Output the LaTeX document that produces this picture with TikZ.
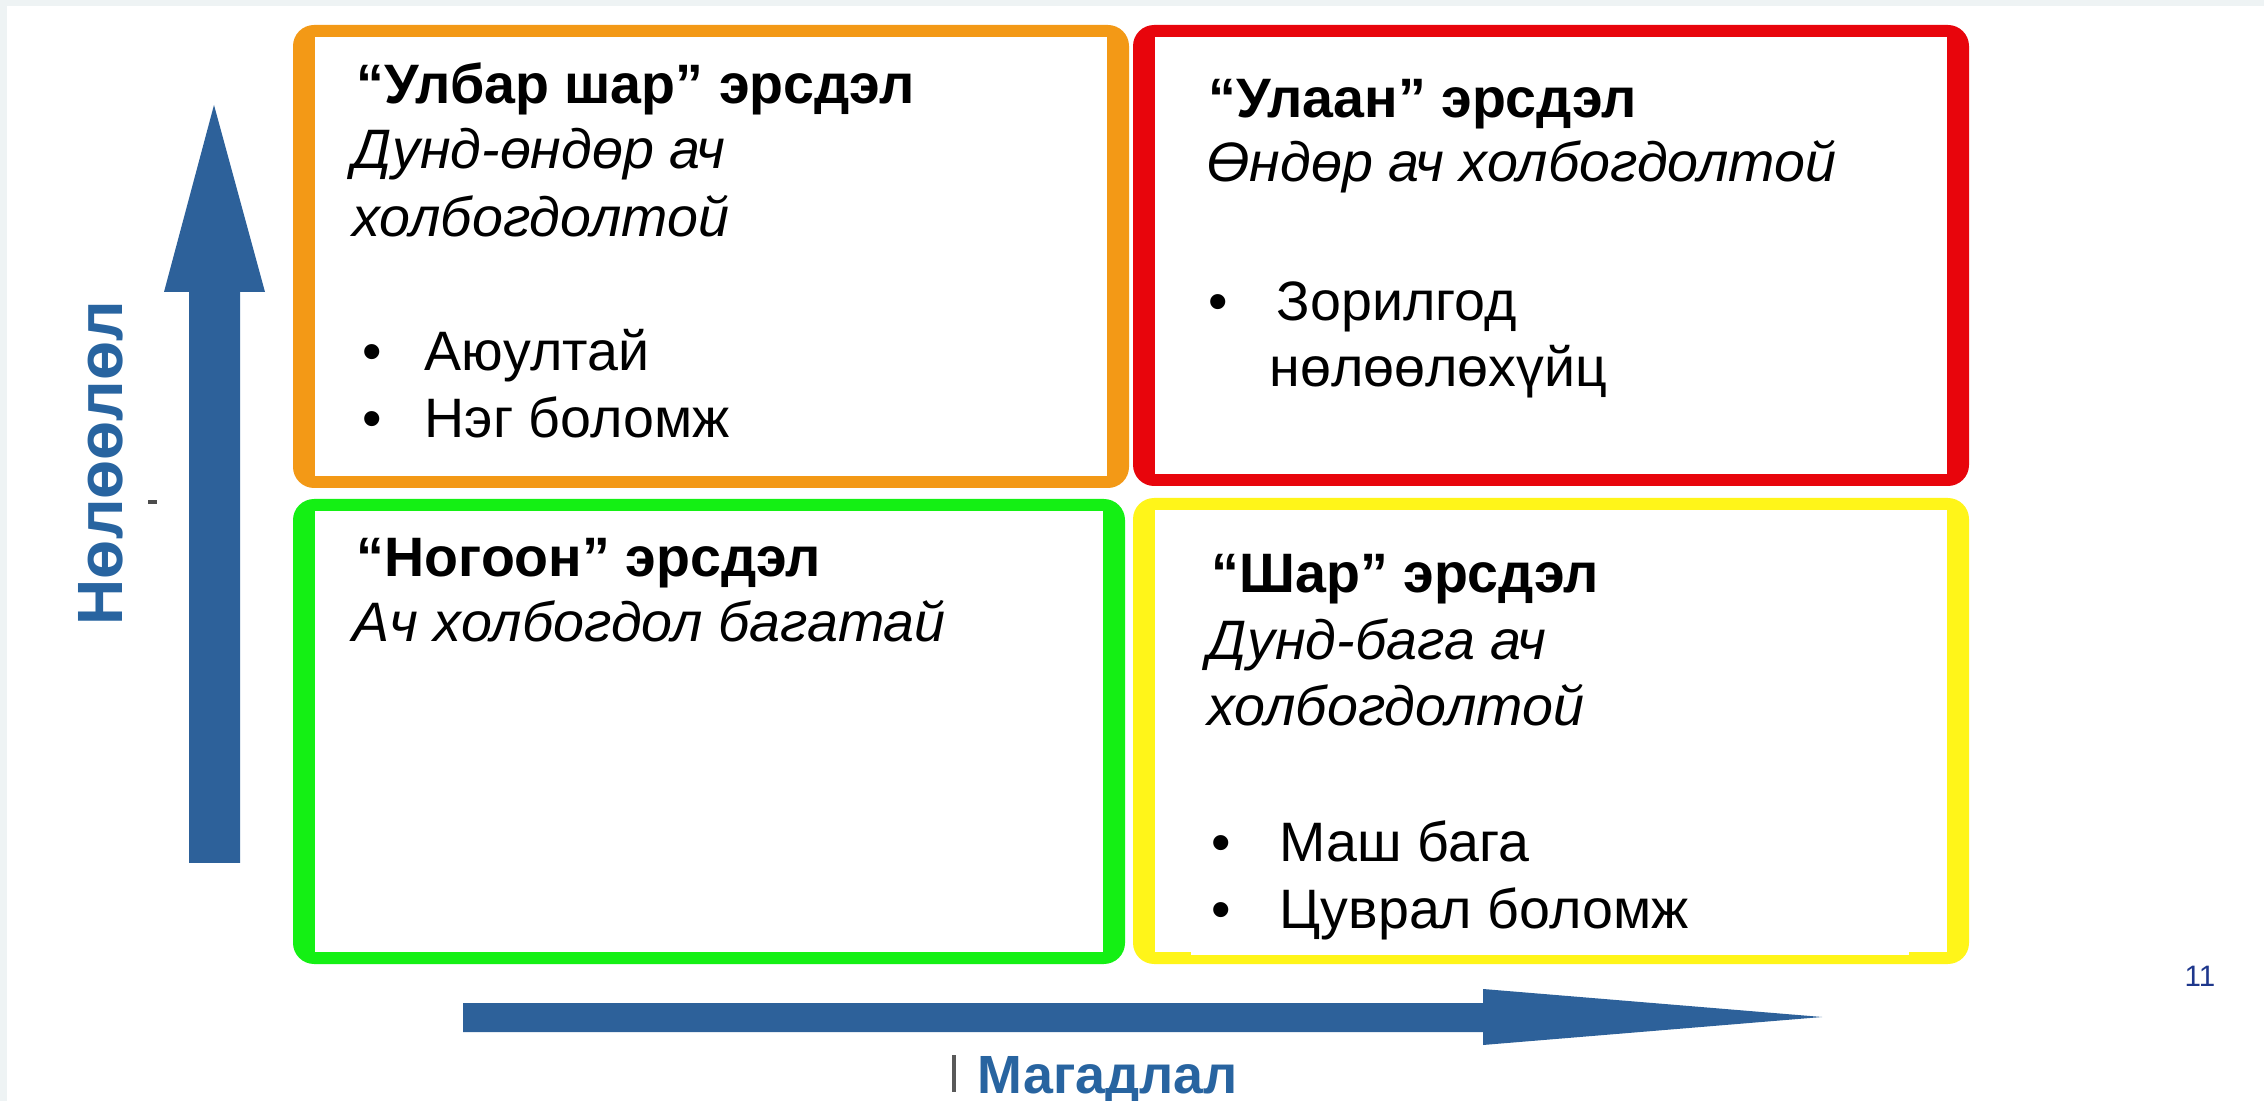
\documentclass[tikz,border=0pt]{standalone}
\usepackage{fontspec}
\setmainfont{Liberation Sans}
\usepackage{xcolor}

\definecolor{slidegray}{RGB}{238,243,244}
\definecolor{riskorange}{RGB}{243,153,22}
\definecolor{riskred}{RGB}{232,5,12}
\definecolor{riskgreen}{RGB}{20,240,20}
\definecolor{riskyellow}{RGB}{255,245,25}
\definecolor{axisblue}{RGB}{45,97,154}
\definecolor{labelblue}{RGB}{40,100,160}
\definecolor{pagenavy}{RGB}{30,55,140}

\newcommand{\bodysize}{\fontsize{15.8}{19}\selectfont}
\newcommand{\bul}[1][0.68cm]{\makebox[#1][l]{•}}

\begin{document}
\begin{tikzpicture}[x=0.01cm, y=-0.01cm,
    txt/.style={anchor=base west, inner sep=0pt, font=\bodysize},
    ttl/.style={txt, font=\bodysize\bfseries},
    sub/.style={txt, font=\bodysize\itshape},
    axislabel/.style={anchor=base west, inner sep=0pt, text=labelblue}]
    \useasboundingbox (0,0) rectangle (2264,1101);
    % Background
    \fill[slidegray] (0,0) rectangle (2264,1101);
    \fill[white] (7,6) rectangle (2264,1101);

    % Quadrants
    \foreach \col/\xa/\ya/\xb/\yb in {riskorange/293/25/1129/488, riskred/1133/25/1969/486,
        riskgreen/293/499/1125/964, riskyellow/1133/498/1969/964} {
        \fill[\col, rounded corners=6] (\xa,\ya) rectangle (\xb,\yb);
        \fill[white] (\xa+22,\ya+12) rectangle (\xb-22,\yb-12);
    }
    \fill[white] (1191,940) rectangle (1909,955);

    % Axes
    \fill[axisblue] (189,863) -- (189,292) -- (164,292) -- (214,105) -- (265,292)
        -- (240,292) -- (240,863) -- cycle;
    \fill[axisblue] (463,1003) -- (1483,1003) -- (1483,989) -- (1822,1017)
        -- (1483,1045) -- (1483,1032) -- (463,1032) -- cycle;
    \node[axislabel, rotate=90, font=\fontsize{18.2}{22}\selectfont\bfseries] (impact) at (122,626) {Нөлөөлөл};
    \node[axislabel, font=\fontsize{15.3}{19}\selectfont\bfseries] (prob) at (977,1093) {Магадлал};
    \fill[gray!70!black] (952,1055) rectangle (956,1092);
    \fill[gray!60!black] (148,500) rectangle (157,504);

    % Orange
    \node[ttl] (otitle) at (356,104) {“Улбар шар” эрсдэл};
    \node[sub] (osub1) at (352,169) {Дунд-өндөр ач};
    \node[sub] (osub2) at (352,237) {холбогдолтой};
    \node[txt] (oitem1) at (362,371) {\bul[0.62cm]Аюултай};
    \node[txt] (oitem2) at (362,438) {\bul[0.62cm]Нэг боломж};

    % Red
    \node[ttl] (rtitle) at (1208,118) {“Улаан” эрсдэл};
    \node[sub] (rsub) at (1206,182) {Өндөр ач холбогдолтой};
    \node[txt] (ritem1) at (1208,321) {\bul Зорилгод};
    \node[txt] (ritem2) at (1269,387) {нөлөөлөхүйц};

    % Green
    \node[ttl] (gtitle) at (356,577) {“Ногоон” эрсдэл};
    \node[sub] (gsub) at (352,642) {Ач холбогдол багатай};

    % Yellow
    \node[ttl] (ytitle) at (1211,593) {“Шар” эрсдэл};
    \node[sub] (ysub1) at (1207,660) {Дунд-бага ач};
    \node[sub] (ysub2) at (1207,726) {холбогдолтой};
    \node[txt] (yitem1) at (1211,862) {\bul Маш бага};
    \node[txt] (yitem2) at (1211,929) {\bul Цуврал боломж};

    \node[anchor=base west, inner sep=0pt, text=pagenavy, font=\fontsize{8.4}{10}\selectfont] (page) at (2184,986) {11};
\end{tikzpicture}
\end{document}
